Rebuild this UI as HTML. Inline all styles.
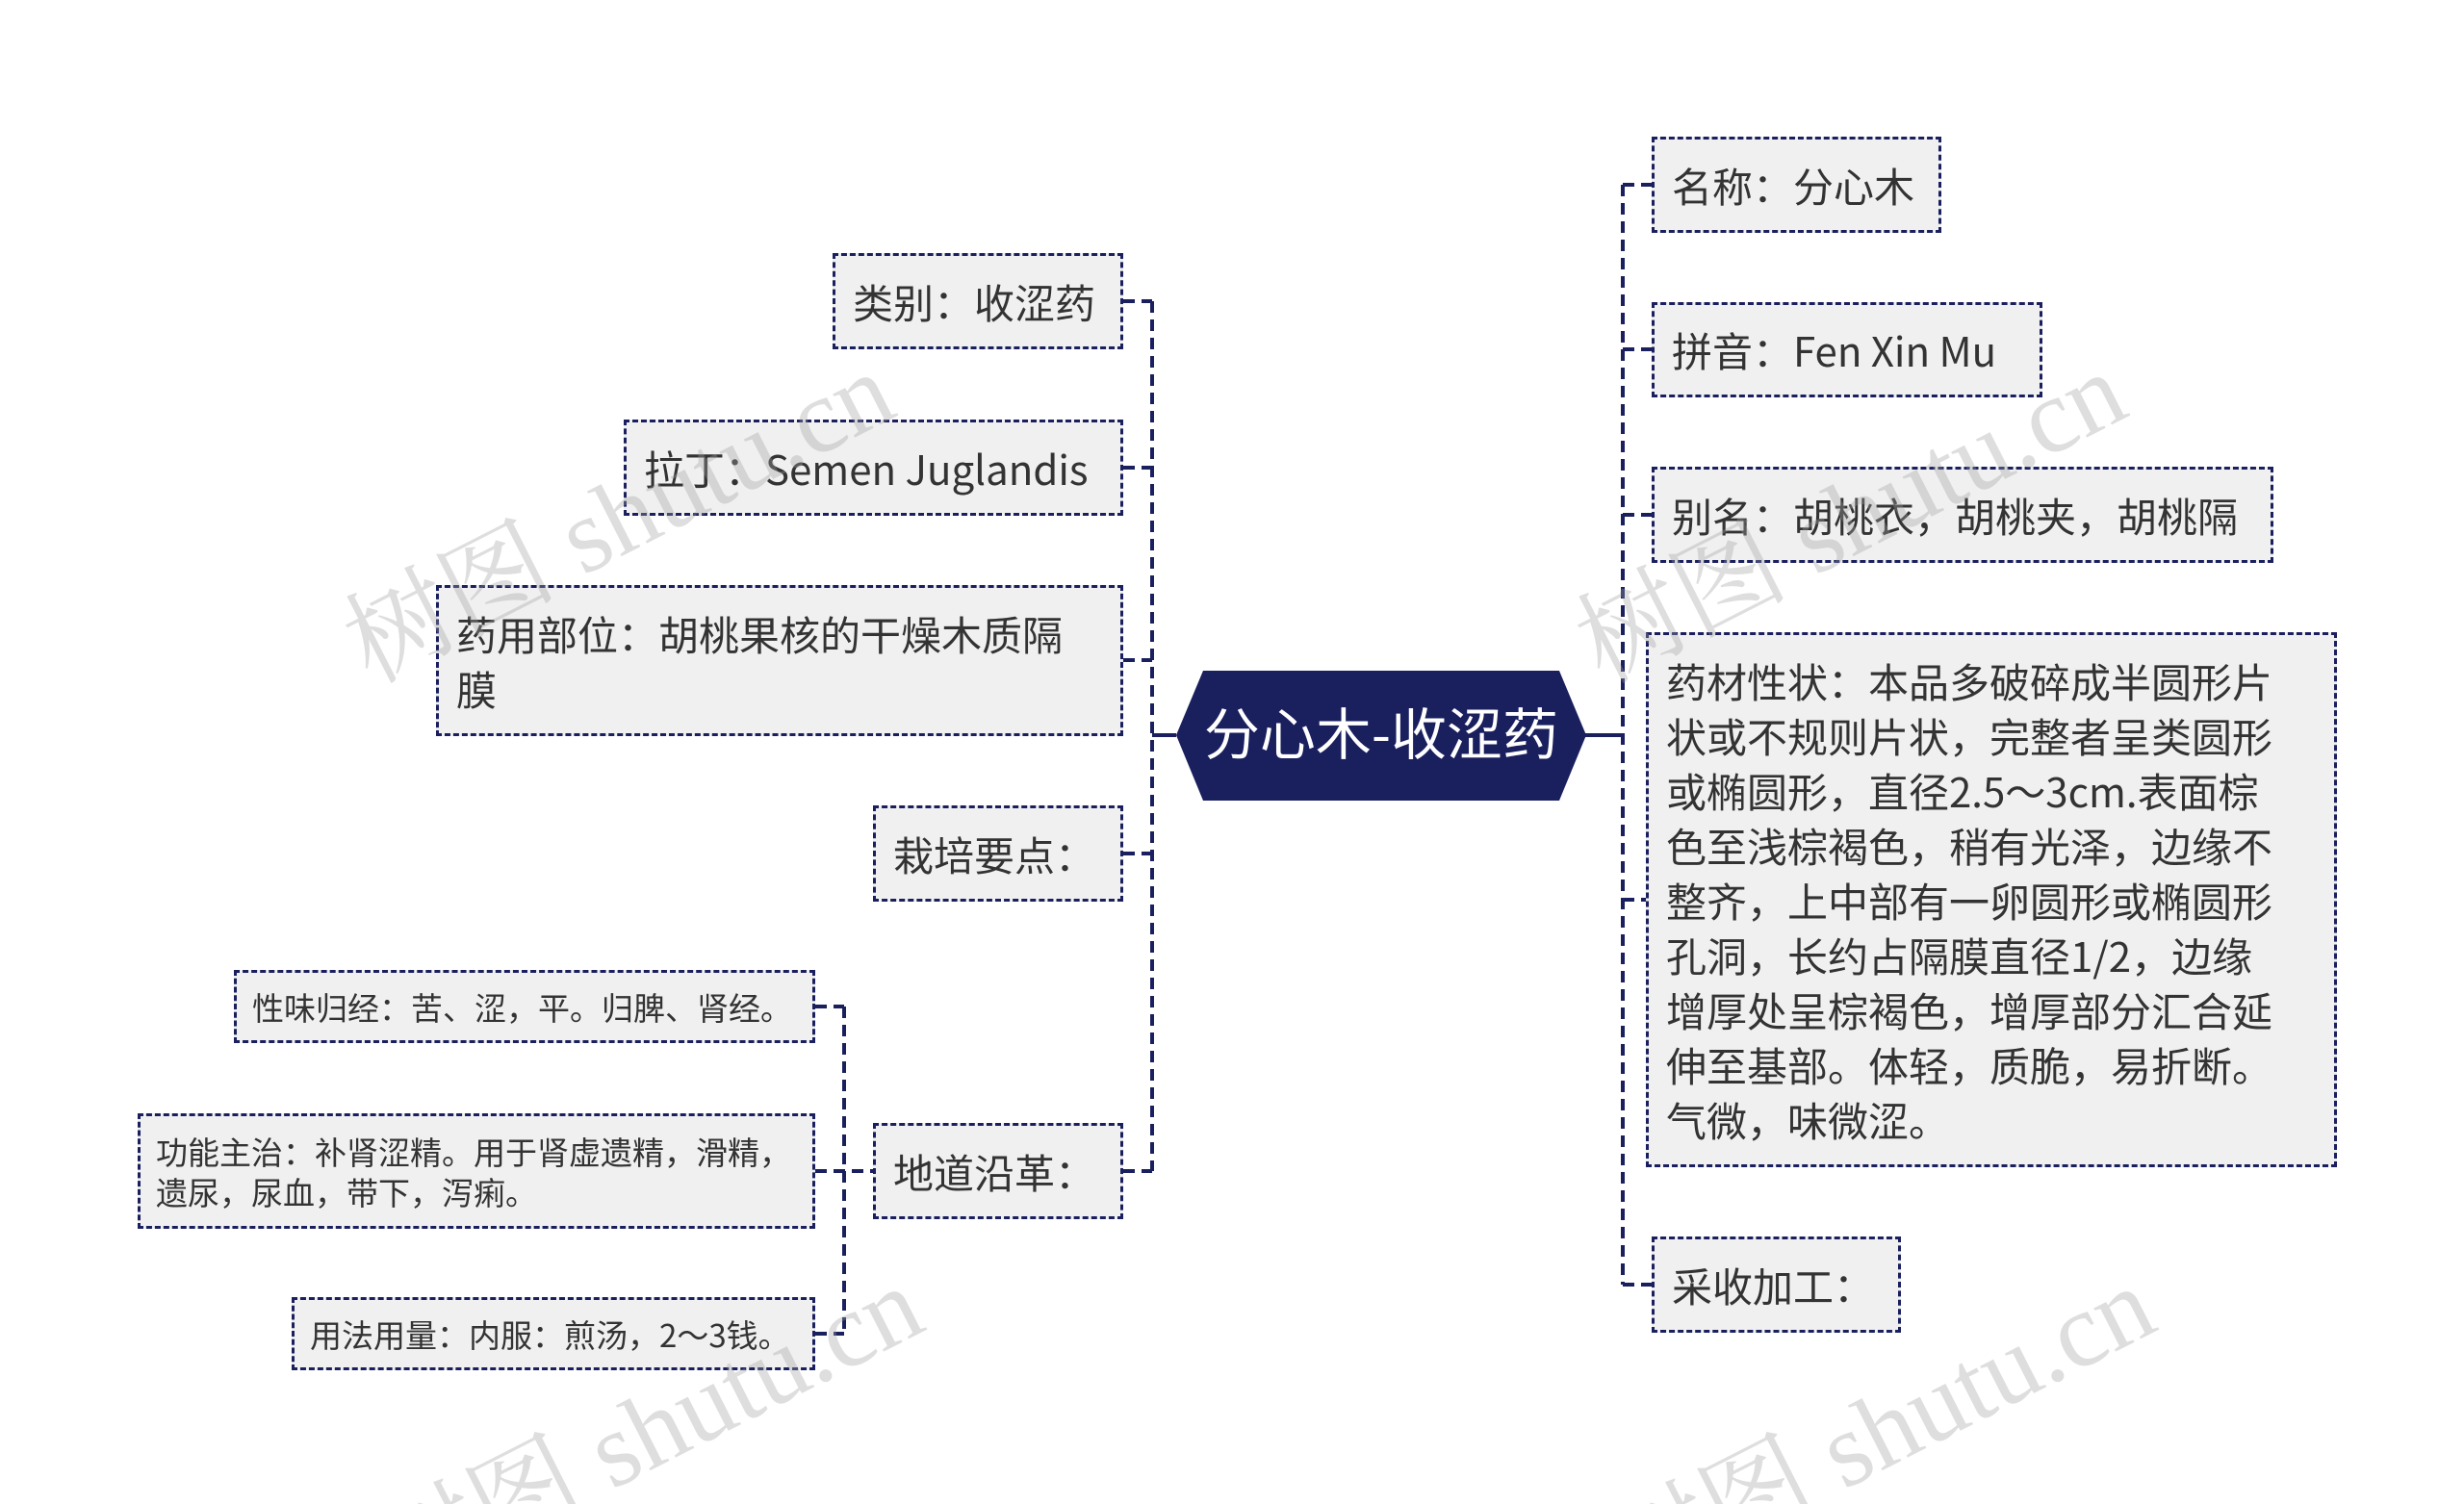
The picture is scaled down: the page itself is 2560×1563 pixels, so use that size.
<!DOCTYPE html>
<html><head><meta charset="utf-8"><style>
html,body{margin:0;width:2560px;height:1563px;overflow:hidden;}
body{background:#fff;position:relative;font-family:"Noto Sans CJK SC","Liberation Sans",sans-serif;}
.b{position:absolute;box-sizing:border-box;background:#f0f0f0;border:3px dashed #1a1f5e;color:#333;font-size:42px;line-height:57px;padding:0 18px;display:flex;align-items:center;white-space:nowrap;}
.s{font-size:33px;line-height:42px;padding:0 16px;}
.wm{position:absolute;color:rgba(160,160,160,0.35);font-family:"Liberation Serif","Noto Serif CJK SC",serif;font-size:110px;transform:rotate(-27deg);white-space:nowrap;}
svg{position:absolute;left:0;top:0;}
</style></head><body>
<svg width="2560" height="1563">
<g stroke="#1a1f5e" stroke-width="4" fill="none" stroke-dasharray="12 7">
<path d="M1197 313 V1217"/>
<path d="M1167 313 H1197 M1167 486 H1197 M1167 686 H1197 M1167 887 H1197 M1167 1217 H1197"/>
<path d="M877 1046 V1386"/>
<path d="M847 1046 H877 M847 1217 H907 M847 1386 H877"/>
<path d="M1686 192 V1335"/>
<path d="M1686 192 H1716 M1686 363 H1716 M1686 535 H1716 M1686 935 H1716 M1686 1335 H1716"/>
</g>
<g stroke="#1a1f5e" stroke-width="4">
<path d="M1197 764 H1222 M1646 764 H1686"/>
</g>
<polygon points="1222,764 1250,697 1620,697 1648,764 1620,832 1250,832" fill="#1a1f5e"/>
<text x="1435" y="784" fill="#fff" font-size="58" text-anchor="middle" font-family="Noto Sans CJK SC, Liberation Sans, sans-serif">分心木-收涩药</text>
</svg>
<div class="b" style="left:865px;top:263px;width:302px;height:100px">类别：收涩药</div>
<div class="b" style="left:648px;top:436px;width:519px;height:100px">拉丁：Semen Juglandis</div>
<div class="b" style="left:453px;top:608px;width:714px;height:157px">药用部位：胡桃果核的干燥木质隔<br>膜</div>
<div class="b" style="left:907px;top:837px;width:260px;height:100px">栽培要点：</div>
<div class="b" style="left:907px;top:1167px;width:260px;height:100px">地道沿革：</div>
<div class="b s" style="left:243px;top:1008px;width:604px;height:76px">性味归经：苦、涩，平。归脾、肾经。</div>
<div class="b s" style="left:143px;top:1157px;width:704px;height:120px">功能主治：补肾涩精。用于肾虚遗精，滑精，<br>遗尿，尿血，带下，泻痢。</div>
<div class="b s" style="left:303px;top:1348px;width:544px;height:76px">用法用量：内服：煎汤，2～3钱。</div>
<div class="b" style="left:1716px;top:142px;width:301px;height:100px">名称：分心木</div>
<div class="b" style="left:1716px;top:314px;width:406px;height:99px">拼音：Fen Xin Mu</div>
<div class="b" style="left:1716px;top:485px;width:646px;height:100px">别名：胡桃衣，胡桃夹，胡桃隔</div>
<div class="b" style="left:1710px;top:657px;width:718px;height:556px">药材性状：本品多破碎成半圆形片<br>状或不规则片状，完整者呈类圆形<br>或椭圆形，直径2.5～3cm.表面棕<br>色至浅棕褐色，稍有光泽，边缘不<br>整齐，上中部有一卵圆形或椭圆形<br>孔洞，长约占隔膜直径1/2，边缘<br>增厚处呈棕褐色，增厚部分汇合延<br>伸至基部。体轻，质脆，易折断。<br>气微，味微涩。</div>
<div class="b" style="left:1716px;top:1285px;width:259px;height:100px">采收加工：</div>
<div class="wm" style="left:330px;top:450px">树图 shutu.cn</div>
<div class="wm" style="left:1610px;top:450px">树图 shutu.cn</div>
<div class="wm" style="left:360px;top:1400px">树图 shutu.cn</div>
<div class="wm" style="left:1640px;top:1400px">树图 shutu.cn</div>
</body></html>
